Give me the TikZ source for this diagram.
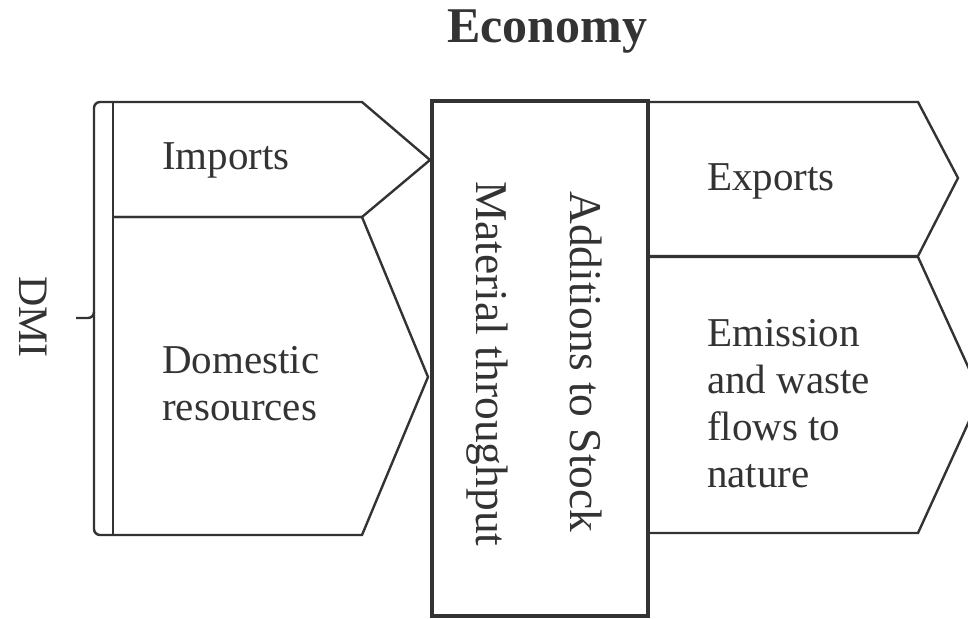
\documentclass[tikz,border=0pt]{standalone}
\usepackage{fontspec}
\setmainfont{Liberation Serif}
\begin{document}
\begin{tikzpicture}[x=1pt,y=-1pt,
  ink/.style={draw=black!80, line width=2.4pt, line join=miter},
  thick ink/.style={draw=black!80, line width=3.2pt},
  lbl/.style={inner sep=0pt, text=black!80, font=\fontsize{41}{47}\selectfont, align=left},
  vlbl/.style={inner sep=0pt, text=black!80, font=\fontsize{45.5}{52}\selectfont, rotate=-90, anchor=base west}]
\useasboundingbox (0,0) rectangle (968,618);
% title
\node[inner sep=0pt, anchor=base, text=black!80, font=\fontsize{50}{56}\selectfont\bfseries] (title) at (547,43) {Economy};
% DMI bracket
\draw[ink] (113,102) -- (100,102) to[out=180,in=90] (94,108) -- (94,529) to[out=-90,in=180] (100,535) -- (113,535);
\draw[ink] (76,318) -- (88,318) to[out=0,in=-90] (94,312);
\node[inner sep=0pt, anchor=base, rotate=-90, text=black!80, font=\fontsize{42}{48}\selectfont] (dmi) at (19,317) {DMI};
% input arrows
\draw[ink] (113,102) -- (362,102) -- (430,160) -- (362,217) -- (113,217);
\draw[ink] (113,217) -- (362,217) -- (428,377) -- (362,535) -- (113,535);
\draw[ink] (113,102) -- (113,535);
\node[lbl, anchor=base west] (imports) at (162,169) {Imports};
\node[lbl, anchor=base west] (domestic) at (162,420) {Domestic\\resources};
% output arrows
\draw[ink] (648,102) -- (918,102) -- (958,178) -- (918,256) -- (648,256);
\draw[ink] (648,257) -- (918,257) -- (981,395) -- (918,533) -- (648,533);
\node[lbl, anchor=base west] (exports) at (707,190) {Exports};
\node[lbl, anchor=base west] (emission) at (707,487) {Emission\\and waste\\flows to\\nature};
% middle box
\draw[thick ink] (432,101) rectangle (648,616);
\node[vlbl] (stock) at (570,191) {Additions to Stock};
\node[vlbl] (through) at (476,181) {Material throughput};
\end{tikzpicture}
\end{document}
